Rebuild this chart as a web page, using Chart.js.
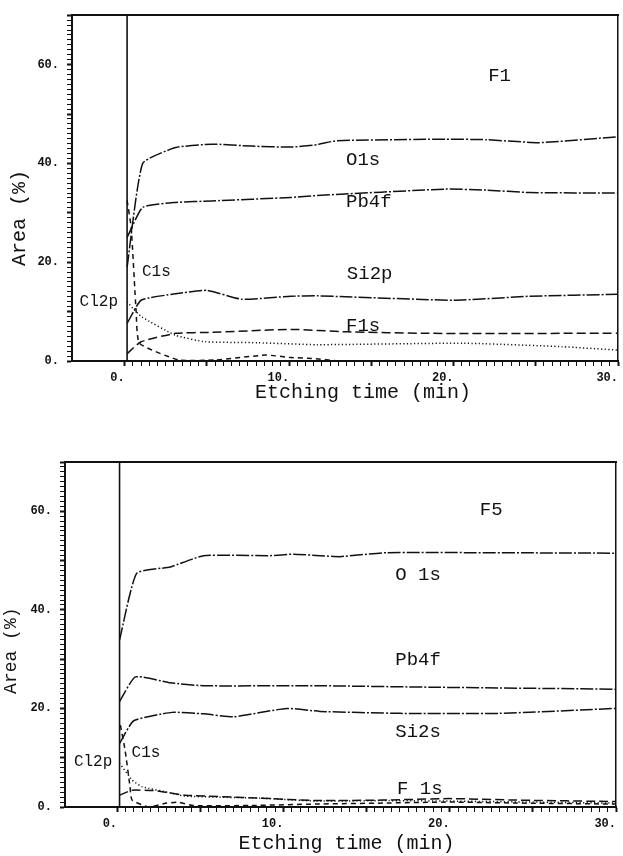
<!DOCTYPE html>
<html>
<head>
<meta charset="utf-8">
<script src="https://cdn.jsdelivr.net/npm/chart.js@4.4.0/dist/chart.umd.min.js"></script>
<style>
  html, body { margin:0; padding:0; background:#fff; }
  .box { position:absolute; left:0; width:623px; }
  #f1-box { top:0; height:420px; }
  #f5-box { top:440px; height:416px; }
</style>
</head>
<body>
<div class="box" id="f1-box"><canvas id="f1-chart"></canvas></div>
<div class="box" id="f5-box"><canvas id="f5-chart"></canvas></div>
<script>
// ---------------------------------------------------------------------------------------
// Daten F1 (oben)  -- Zeit in min, Fläche in %

var f1_o1s_t  = [0.15, 1.1, 3.1, 5.3, 7.7, 10.1, 11.7, 12.9, 19.5, 22, 25.2, 30];
var f1_o1s    = [19, 40, 43.2, 43.9, 43.5, 43.3, 43.8, 44.6, 44.9, 44.8, 44.2, 45.4];

var f1_pb4f_t = [0.15, 1.1, 3.1, 5.3, 10.1, 11.7, 19.5, 22, 24.6, 30];
var f1_pb4f   = [25, 31.1, 32.1, 32.4, 33.1, 33.5, 34.8, 34.6, 34.1, 34.0];

var f1_si2p_t = [0.15, 1.0, 3.1, 5.0, 7.1, 10.1, 11.7, 20, 24.6, 30];
var f1_si2p   = [7.6, 12.3, 13.6, 14.3, 12.5, 13.1, 13.2, 12.3, 13.1, 13.5];

var f1_f1s_t  = [0.15, 1.0, 3.1, 5.3, 10.1, 13.5, 18.5, 30];
var f1_f1s    = [1.5, 3.9, 5.6, 5.8, 6.4, 5.9, 5.6, 5.6];

var f1_cl2p_t = [0.15, 0.6, 1.05, 3.1, 4.9, 8.1, 11.7, 20.6, 26.6, 30];
var f1_cl2p   = [12, 10.3, 8.9, 5.2, 3.9, 3.7, 3.3, 3.6, 2.9, 2.2];

var f1_c1s_t  = [0.15, 0.4, 0.7, 0.9, 3.3, 5.5, 8.6, 10.1, 11.5, 13];
var f1_c1s    = [32.5, 27, 10, 3.6, 0.2, 0.2, 1.2, 0.7, 0.5, 0];

var f1_note_text = ['F1', 'O1s', 'Pb4f', 'Si2p', 'F1s', 'C1s', 'Cl2p'];
var f1_note_t    = [22.8, 14.5, 14.85, 14.9, 14.5, 1.93, -1.57];
var f1_note_v    = [57.7, 40.6, 32.1, 17.7, 7.1, 18.1, 11.9];

// ---------------------------------------------------------------------------------------
// Daten F5 (unten)

var f5_o1s_t  = [0.15, 1.18, 3.2, 5.2, 9.2, 10.6, 12.2, 13.4, 16.2, 30];
var f5_o1s    = [33.9, 47.4, 48.7, 51, 51, 51.3, 51, 50.8, 51.6, 51.5];

var f5_pb4f_t = [0.15, 1.1, 3.2, 5.2, 12.2, 19, 30];
var f5_pb4f   = [21.4, 26.4, 25.2, 24.6, 24.6, 24.3, 23.9];

var f5_si2s_t = [0.15, 1.0, 3.3, 5.2, 7, 10.2, 12.2, 17, 23, 30];
var f5_si2s   = [12.9, 17.5, 19.2, 18.9, 18.3, 20, 19.4, 19, 19, 20];

var f5_f1s_t  = [0.15, 0.9, 2.3, 4.1, 8.6, 12, 16, 20, 24, 30];
var f5_f1s    = [2.4, 3.4, 3.3, 2.4, 1.8, 1.3, 1.4, 1.7, 1.4, 1.1];

var f5_cl2p_t = [0.15, 0.9, 1.5, 3.3, 4.1, 8.6, 12, 16, 20, 25, 30];
var f5_cl2p   = [8.9, 5.5, 4.1, 2.8, 2.2, 1.8, 1.2, 1.3, 1.2, 1.0, 0.8];

var f5_c1s_t  = [0.2, 0.48, 0.78, 0.9, 1.9, 2.9, 3.7, 4.6, 8, 12, 16, 20, 24, 30];
var f5_c1s    = [16.6, 11.6, 4.1, 1.4, 0, 0.75, 0.95, 0.3, 0.3, 0.6, 0.8, 1.0, 0.8, 0.6];

var f5_note_text = ['F5', 'O 1s', 'Pb4f', 'Si2s', 'F 1s', 'C1s', 'Cl2p'];
var f5_note_t    = [22.5, 18.1, 18.1, 18.1, 18.2, 1.74, -1.44];
var f5_note_v    = [60.2, 47, 29.8, 15.3, 3.7, 11, 9.1];

// Beginn der Ätzung (senkrechte Linie) und Achsenbereich
var etch_start = 0.15;
var area_max = 70;

// ---------------------------------------------------------------------------------------
// Hilfsfunktionen

var INK = '#111111';
var MONO = '"Liberation Mono", "DejaVu Sans Mono", monospace';
var DASHDOT = [13, 2, 2, 2];
var LONGDASH = [9, 4];
var SHORTDASH = [5, 4];
var DOTTED = [1.2, 2.4];

function points(t, v) {
  return t.map(function(x, i){ return {x: x, y: v[i]}; });
}

function line(label, t, v, dash) {
  return {
    label: label,
    data: points(t, v),
    borderColor: INK,
    borderWidth: 1.5,
    borderDash: dash,
    pointRadius: 0,
    fill: false,
    tension: 0.15
  };
}

function startLine() {
  return {
    label: 'start',
    data: [{x: etch_start, y: 0}, {x: etch_start, y: area_max}],
    borderColor: INK,
    borderWidth: 1.6,
    pointRadius: 0
  };
}

function near(v, step) {
  return Math.abs(v / step - Math.round(v / step)) < 1e-6;
}

function notesPlugin(text, t, v) {
  return {
    id: 'notes',
    afterDatasetsDraw: function(chart) {
      var ctx = chart.ctx;
      var xs = chart.scales.x, ys = chart.scales.y;
      ctx.save();
      ctx.fillStyle = INK;
      ctx.textAlign = 'center';
      ctx.textBaseline = 'middle';
      for (var i = 0; i < text.length; i++) {
        var small = (text[i] == 'C1s' || text[i] == 'Cl2p');
        ctx.font = (small ? '16px ' : '19px ') + MONO;
        ctx.fillText(text[i], xs.getPixelForValue(t[i]), ys.getPixelForValue(v[i]));
      }
      ctx.restore();
    }
  };
}

function etchChart(id, datasets, notes, o) {
  return new Chart(document.getElementById(id), {
    type: 'line',
    data: { datasets: datasets },
    plugins: [notes],
    options: {
      responsive: true,
      maintainAspectRatio: false,
      animation: false,
      layout: { padding: { top: o.top, right: o.right, left: 0, bottom: 0 } },
      plugins: {
        legend: {display: false},
        tooltip: {enabled: false}
      },
      scales: {
        x: {
          type: 'linear',
          min: o.xMin,
          max: 30,
          afterFit: function(s){ s.height = o.xHeight; },
          grid: {
            display: true,
            drawOnChartArea: false,
            tickLength: 5,
            tickColor: function(c){ return (c.tick && c.tick.value < -0.01) ? 'rgba(0,0,0,0)' : INK; },
            tickWidth: function(c){ return (c.tick && near(c.tick.value, 5)) ? 2 : 1; }
          },
          border: {display: true, width: 2, color: INK},
          ticks: {
            stepSize: 0.5,
            autoSkip: false,
            maxRotation: 0,
            align: 'end',
            padding: 5,
            color: INK,
            font: {family: MONO, size: 12, weight: 'bold'},
            callback: function(v){ return (v > -0.01 && near(v, 10)) ? Math.round(v) + '.' : ''; }
          },
          title: {
            display: true,
            text: o.xTitle,
            color: INK,
            font: {family: MONO, size: 20},
            padding: {top: 0, bottom: o.xTitlePad}
          }
        },
        y: {
          type: 'linear',
          min: 0,
          max: area_max,
          afterFit: function(s){ s.width = o.yWidth; },
          grid: {
            display: true,
            drawOnChartArea: false,
            tickLength: 5,
            tickColor: INK,
            tickWidth: function(c){ return (c.tick && near(c.tick.value, 10)) ? 2 : 1; }
          },
          border: {display: true, width: 2, color: INK},
          ticks: {
            stepSize: 1,
            autoSkip: false,
            padding: 8,
            color: INK,
            font: {family: MONO, size: 12, weight: 'bold'},
            callback: function(v){ return near(v, 20) ? v + '.' : ''; }
          },
          title: {
            display: true,
            text: o.yTitle,
            color: INK,
            font: {family: MONO, size: o.yTitleSize},
            padding: {top: o.yTitlePad, bottom: 0}
          }
        },
        xTop: {
          type: 'linear', position: 'top', display: true, min: 0, max: 1,
          afterFit: function(s){ s.height = 0; },
          ticks: {display: false}, grid: {display: false},
          border: {display: true, width: 2, color: INK}
        },
        yRight: {
          type: 'linear', position: 'right', display: true, min: 0, max: 1,
          afterFit: function(s){ s.width = 0; },
          ticks: {display: false}, grid: {display: false},
          border: {display: true, width: 1.5, color: INK}
        }
      }
    }
  });
}

// ---------------------------------------------------------------------------------------
// F1

etchChart('f1-chart', [
    startLine(),
    line('O1s',  f1_o1s_t,  f1_o1s,  DASHDOT),
    line('Pb4f', f1_pb4f_t, f1_pb4f, DASHDOT),
    line('Si2p', f1_si2p_t, f1_si2p, DASHDOT),
    line('F1s',  f1_f1s_t,  f1_f1s,  LONGDASH),
    line('Cl2p', f1_cl2p_t, f1_cl2p, DOTTED),
    line('C1s',  f1_c1s_t,  f1_c1s,  SHORTDASH)
  ],
  notesPlugin(f1_note_text, f1_note_t, f1_note_v),
  {top: 14, right: 1, xMin: -3.2, xHeight: 59, yWidth: 72,
   xTitle: '   Etching time (min)', xTitlePad: 15,
   yTitle: 'Area (%)     ', yTitleSize: 20, yTitlePad: 8}
);

// ---------------------------------------------------------------------------------------
// F5

etchChart('f5-chart', [
    startLine(),
    line('O 1s', f5_o1s_t,  f5_o1s,  DASHDOT),
    line('Pb4f', f5_pb4f_t, f5_pb4f, DASHDOT),
    line('Si2s', f5_si2s_t, f5_si2s, DASHDOT),
    line('F 1s', f5_f1s_t,  f5_f1s,  LONGDASH),
    line('Cl2p', f5_cl2p_t, f5_cl2p, DOTTED),
    line('C1s',  f5_c1s_t,  f5_c1s,  SHORTDASH)
  ],
  notesPlugin(f5_note_text, f5_note_t, f5_note_v),
  {top: 22, right: 7, xMin: -3.13, xHeight: 49, yWidth: 65,
   xTitle: ' Etching time (min)', xTitlePad: 0,
   yTitle: 'Area (%)   ', yTitleSize: 18, yTitlePad: 0}
);
</script>
</body>
</html>
